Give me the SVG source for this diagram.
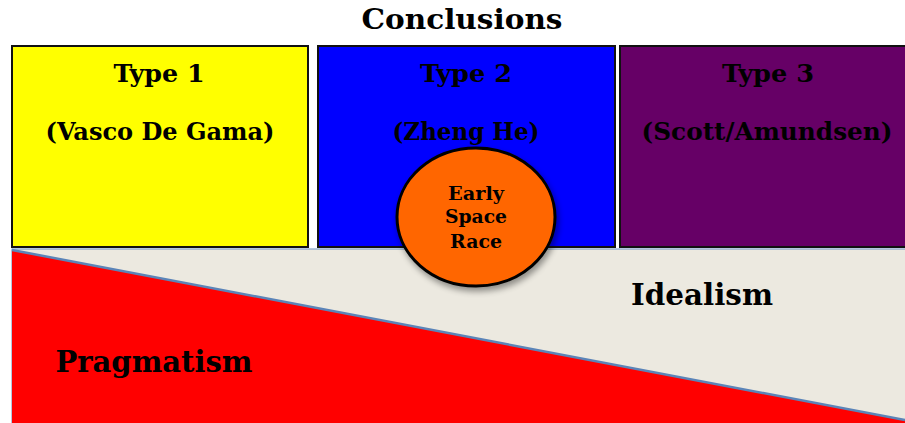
<svg xmlns="http://www.w3.org/2000/svg" width="905" height="423" viewBox="0 0 905 423">
<defs>
<style>
.t{font-family:"DejaVu Serif","Liberation Serif",serif;font-weight:bold;fill:#000;text-anchor:middle}
.box{stroke:#111;stroke-width:2}
</style>
<filter id="sh" x="-20%" y="-20%" width="150%" height="150%">
<feGaussianBlur in="SourceAlpha" stdDeviation="3"/>
<feOffset dx="2" dy="4" result="b"/>
<feComponentTransfer><feFuncA type="linear" slope="0.4"/></feComponentTransfer>
<feMerge><feMergeNode/><feMergeNode in="SourceGraphic"/></feMerge>
</filter>
</defs>
<rect width="905" height="423" fill="#fff"/>
<text class="t" x="462" y="29" font-size="27" textLength="201" lengthAdjust="spacingAndGlyphs">Conclusions</text>
<g id="type1">
<rect class="box" x="12" y="46" width="296" height="201" fill="#FFFF00"/>
<text class="t" x="159" y="82" font-size="24" textLength="91" lengthAdjust="spacingAndGlyphs">Type 1</text>
<text class="t" x="160" y="140" font-size="25" textLength="229" lengthAdjust="spacingAndGlyphs">(Vasco De Gama)</text>
</g>
<g id="type2">
<rect class="box" x="318" y="46" width="297" height="201" fill="#0000FF"/>
<text class="t" x="466" y="82" font-size="24" textLength="92" lengthAdjust="spacingAndGlyphs">Type 2</text>
<text class="t" x="466" y="140" font-size="25" textLength="147" lengthAdjust="spacingAndGlyphs">(Zheng He)</text>
</g>
<g id="type3">
<rect class="box" x="620" y="46" width="290" height="201" fill="#660066"/>
<text class="t" x="768" y="82" font-size="24" textLength="92" lengthAdjust="spacingAndGlyphs">Type 3</text>
<text class="t" x="767" y="140" font-size="25" textLength="251" lengthAdjust="spacingAndGlyphs">(Scott/Amundsen)</text>
</g>
<g id="spectrum">
<rect x="12" y="249" width="895" height="174" fill="#ECE9E0" stroke="#6A8FC0" stroke-width="1"/>
<polygon points="12,250 12,423 905,423 905,420" fill="#FF0000"/>
<line x1="12" y1="250" x2="905" y2="420" stroke="#5B84B8" stroke-width="2.5"/>
<text class="t" x="702" y="305" font-size="29" textLength="142" lengthAdjust="spacingAndGlyphs">Idealism</text>
<text class="t" x="154" y="372" font-size="30" textLength="197" lengthAdjust="spacingAndGlyphs">Pragmatism</text>
</g>
<g id="early-space-race" filter="url(#sh)">
<ellipse cx="476" cy="217" rx="79" ry="69" fill="#FF6600" stroke="#000" stroke-width="3"/>
</g>
<g id="early-space-race-label">
<text class="t" x="476" y="200" font-size="18" textLength="56" lengthAdjust="spacingAndGlyphs">Early</text>
<text class="t" x="476" y="223" font-size="18" textLength="62" lengthAdjust="spacingAndGlyphs">Space</text>
<text class="t" x="476" y="248" font-size="18" textLength="52" lengthAdjust="spacingAndGlyphs">Race</text>
</g>
</svg>
